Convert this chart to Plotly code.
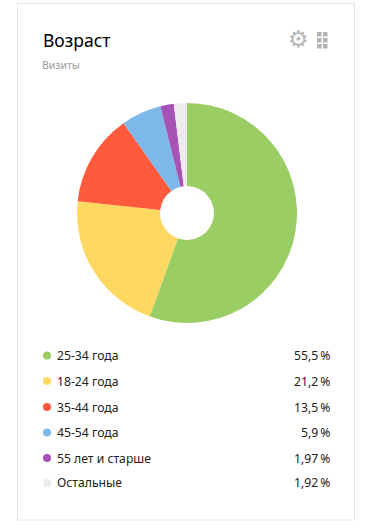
import plotly.graph_objects as go

W, H = 371, 531
categories = ["25-34 года", "18-24 года", "35-44 года", "45-54 года", "55 лет и старше", "Остальные"]
values = [55.5, 21.2, 13.5, 5.9, 1.97, 1.92]
value_labels = ["55,5\u2009%", "21,2\u2009%", "13,5\u2009%", "5,9\u2009%", "1,97\u2009%", "1,92\u2009%"]
colors = ["#9ACD64", "#FFD862", "#FF5A3C", "#7CB8EA", "#A653B5", "#ECECEC"]
FONT = "Noto Sans, Open Sans, sans-serif"

def px(x): return x / W
def py(y): return 1 - y / H

fig = go.Figure(go.Pie(
    labels=categories, values=values, sort=False, direction="clockwise", rotation=0,
    hole=0.245, textinfo="none", hoverinfo="label+percent",
    marker=dict(colors=colors, line=dict(width=0)),
    domain=dict(x=[px(77), px(297)], y=[py(323), py(103)]),
    showlegend=False,
))

shapes = [dict(type="rect", xref="paper", yref="paper", x0=px(17.5), x1=px(354.5),
               y0=py(520), y1=py(3.5), line=dict(color="#E4E4E4", width=1), fillcolor="rgba(0,0,0,0)")]
annotations = [
    dict(x=px(40.5), y=py(39.5), text="Возраст", xanchor="left", yanchor="middle", showarrow=False,
         font=dict(family=FONT, size=17.5, color="#000000")),
    dict(x=px(40), y=py(64.5), text="Визиты", xanchor="left", yanchor="middle", showarrow=False,
         font=dict(family=FONT, size=10.5, color="#9a9a9a")),
    dict(x=px(298), y=py(39), text="<b>⚙</b>", xanchor="center", yanchor="middle", showarrow=False,
         font=dict(family="DejaVu Sans", size=23, color="#b4b4b4")),
]
for gx in (317, 323):
    for gy in (32, 38, 44):
        shapes.append(dict(type="rect", xref="paper", yref="paper", x0=px(gx), x1=px(gx + 4.5),
                           y0=py(gy + 4.5), y1=py(gy), line=dict(width=0), fillcolor="#b4b4b4"))

rows = [355.5, 381, 407, 432.5, 458, 483]
for cat, lab, col, y in zip(categories, value_labels, colors, rows):
    shapes.append(dict(type="circle", xref="paper", yref="paper", x0=px(43), x1=px(51),
                       y0=py(y + 4), y1=py(y - 4), line=dict(width=0), fillcolor=col))
    annotations.append(dict(x=px(55), y=py(y), text=cat, xanchor="left", yanchor="middle", showarrow=False,
                            font=dict(family=FONT, size=12.2, color="#222222")))
    annotations.append(dict(x=px(332), y=py(y), text=lab, xanchor="right", yanchor="middle", showarrow=False,
                            font=dict(family=FONT, size=12.2, color="#222222")))

fig.update_layout(width=W, height=H, margin=dict(l=0, r=0, t=0, b=0), paper_bgcolor="white",
                  shapes=shapes, annotations=annotations)
fig.write_html("out.html", config={"displayModeBar": False},
               post_script="document.body.style.margin='0';document.documentElement.style.overflow='hidden';")
